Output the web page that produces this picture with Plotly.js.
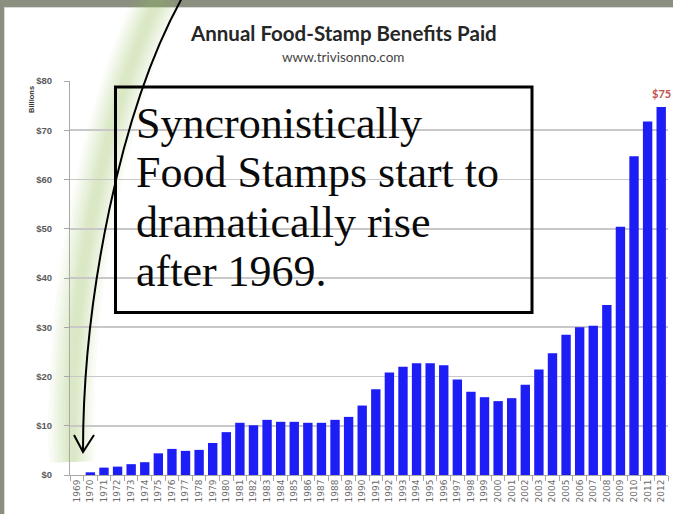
<!DOCTYPE html>
<html>
<head>
<meta charset="utf-8">
<script src="https://cdn.plot.ly/plotly-3.0.1.min.js"></script>
<style>
  html, body { margin: 0; padding: 0; background: #8b8f80; }
  #chart { width: 673px; height: 514px; }
</style>
</head>
<body>
<div id="chart"></div>
<script>
// ---- data ----
const years = ['1969','1970','1971','1972','1973','1974','1975','1976','1977','1978',
  '1979','1980','1981','1982','1983','1984','1985','1986','1987','1988',
  '1989','1990','1991','1992','1993','1994','1995','1996','1997','1998',
  '1999','2000','2001','2002','2003','2004','2005','2006','2007','2008',
  '2009','2010','2011','2012'];
const benefits = [0, 0.55, 1.5, 1.7, 2.2, 2.6, 4.4, 5.3, 4.9, 5.1,
  6.5, 8.7, 10.6, 10.1, 11.2, 10.8, 10.8, 10.6, 10.6, 11.2,
  11.8, 14.1, 17.4, 20.8, 22.0, 22.7, 22.7, 22.3, 19.4, 16.9,
  15.8, 15.0, 15.6, 18.3, 21.4, 24.7, 28.5, 30.0, 30.3, 34.5,
  50.4, 64.7, 71.8, 74.7];
const yTicks = [0, 10, 20, 30, 40, 50, 60, 70, 80];
const yTickLabels = ['$0','$10','$20','$30','$40','$50','$60','$70','$80'];
const titleText = 'Annual Food-Stamp Benefits Paid';
const subtitleText = 'www.trivisonno.com';
const unitText = 'Billions';
const lastLabel = '$75';
const noteLines = ['Syncronistically', 'Food Stamps start to', 'dramatically rise', 'after 1969.'];

// ---- geometry helpers (pixel -> paper) ----
const W = 673, H = 514;
const M = {l: 70, r: 5, t: 81, b: 39};
const PW = W - M.l - M.r, PH = H - M.t - M.b;
const px = v => (v - M.l) / PW;
const py = v => (H - M.b - v) / PH;
function pathFrom(pts, cmds) {
  return pts.map((p, i) => cmds[i] + ' ' + px(p[0]).toFixed(5) + ',' + py(p[1]).toFixed(5)).join(' ');
}

const shapes = [];
// white card
shapes.push({type: 'rect', xref: 'paper', yref: 'paper', layer: 'below',
  x0: px(4.5), x1: px(680), y0: py(7.5), y1: py(520),
  fillcolor: '#ffffff', line: {color: '#d8d8d8', width: 1}});

// glow behind arrow (soft green shadow)
const glowPts = [[160, -5], [104, 110], [66, 300], [72, 462]];
const glowPath = pathFrom(glowPts, ['M', 'C', '', '']);
[46, 40, 34, 28, 23, 18, 13, 8].forEach(w => {
  shapes.push({type: 'path', xref: 'paper', yref: 'paper', layer: 'below',
    path: glowPath, line: {color: 'rgba(150,200,90,0.05)', width: w}});
});

// note box (transparent)
shapes.push({type: 'rect', xref: 'paper', yref: 'paper', layer: 'above',
  x0: px(115.5), x1: px(532), y0: py(87), y1: py(312.5),
  line: {color: '#000000', width: 3}});

// arrow curve
const arrowPts = [[182, -2], [120, 110], [83, 300], [83, 451]];
shapes.push({type: 'path', xref: 'paper', yref: 'paper', layer: 'above',
  path: pathFrom(arrowPts, ['M', 'C', '', '']), line: {color: '#000000', width: 2}});
// arrow head
shapes.push({type: 'path', xref: 'paper', yref: 'paper', layer: 'above',
  path: pathFrom([[74, 435], [83, 452], [94, 435]], ['M', 'L', 'L']),
  line: {color: '#000000', width: 2}});

const annotations = [];
annotations.push({xref: 'paper', yref: 'paper', x: px(343), y: py(33), xanchor: 'center', yanchor: 'middle',
  text: '<b>' + titleText + '</b>', showarrow: false,
  font: {family: 'Lato, Open Sans, sans-serif', size: 20.5, color: '#262626'}});
annotations.push({xref: 'paper', yref: 'paper', x: px(343), y: py(57), xanchor: 'center', yanchor: 'middle',
  text: subtitleText, showarrow: false,
  font: {family: 'Lato, Open Sans, sans-serif', size: 13.5, color: '#444444'}});
annotations.push({xref: 'paper', yref: 'paper', x: px(31), y: py(100), xanchor: 'center', yanchor: 'middle',
  text: '<b>' + unitText + '</b>', textangle: -90, showarrow: false,
  font: {family: 'Liberation Sans, Arial, sans-serif', size: 7.5, color: '#333333'}});
annotations.push({xref: 'x', yref: 'y', x: years.length - 1, y: benefits[benefits.length - 1],
  xanchor: 'center', yanchor: 'bottom', yshift: 5,
  text: '<b>' + lastLabel + '</b>', showarrow: false,
  font: {family: 'Lato, Open Sans, sans-serif', size: 11, color: '#c0504d'}});

const noteSize = 44;
const baselines = [138.3, 187.7, 236.9, 286.5];
noteLines.forEach((t, i) => {
  annotations.push({xref: 'paper', yref: 'paper', x: px(134), y: py(baselines[i] - 0.3375 * noteSize),
    xanchor: 'left', yanchor: 'middle', text: t, showarrow: false,
    font: {family: 'Liberation Serif, Times New Roman, serif', size: noteSize, color: '#0a0a0a'}});
});

const trace = {
  type: 'bar', x: years, y: benefits,
  marker: {color: '#1d1df5', line: {width: 0}},
  hoverinfo: 'skip'
};

const layout = {
  width: W, height: H,
  margin: M,
  paper_bgcolor: '#8b8f80',
  plot_bgcolor: 'rgba(0,0,0,0)',
  showlegend: false,
  bargap: 0.31,
  xaxis: {
    type: 'category', range: [-0.5, years.length - 0.5], autorange: false,
    tickangle: -90, tickson: 'boundaries',
    ticks: 'outside', ticklen: 5, tickcolor: '#a8a8a8',
    showline: true, linecolor: '#a8a8a8', linewidth: 1,
    showgrid: false,
    tickfont: {family: 'DejaVu Sans, sans-serif', size: 9, color: '#6a6a6a'}
  },
  yaxis: {
    range: [0, 80], autorange: false, tickvals: yTicks, ticktext: yTickLabels,
    ticks: 'outside', ticklen: 5, tickcolor: '#a8a8a8',
    ticklabelstandoff: 10,
    showline: true, linecolor: '#a8a8a8', linewidth: 1,
    gridcolor: '#c8c8c8', gridwidth: 1.6, zeroline: false,
    tickfont: {family: 'Liberation Sans, Arial, sans-serif', size: 9.5, color: '#5a5a5a', weight: 'bold'}
  },
  shapes: shapes,
  annotations: annotations
};

Plotly.newPlot('chart', [trace], layout, {staticPlot: true, displayModeBar: false});
</script>
</body>
</html>
